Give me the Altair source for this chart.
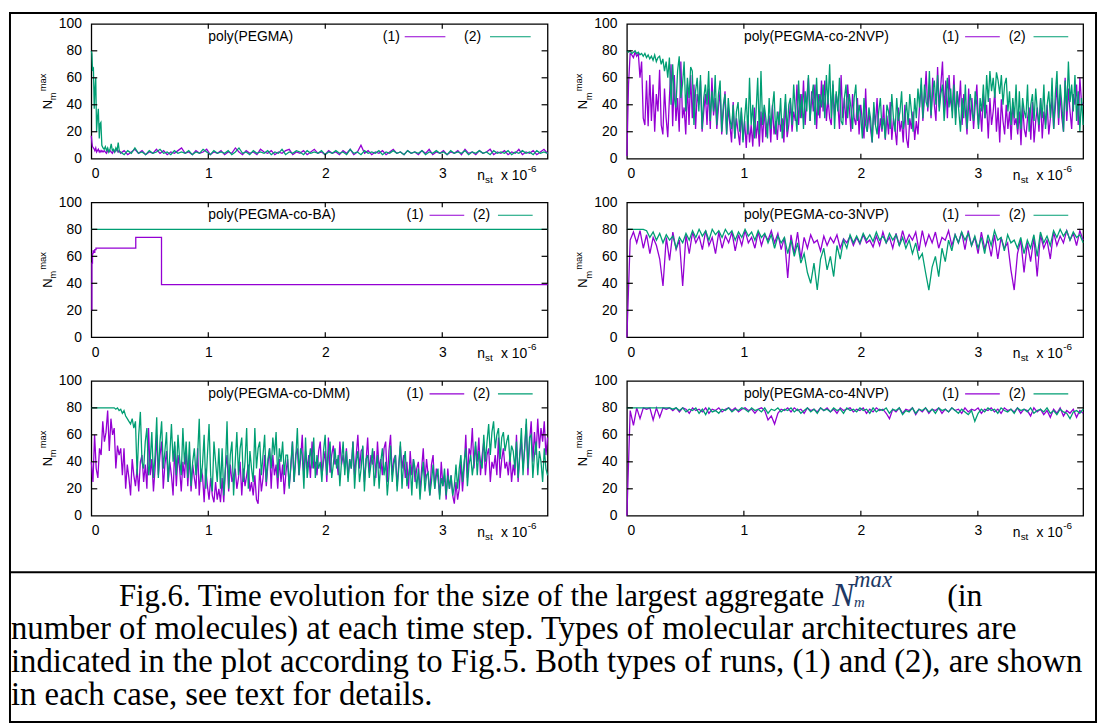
import altair as alt
import numpy as np
import pandas as pd

PURPLE = "#9400D3"
GREEN = "#009E73"
FONT = "Liberation Sans"
SERIF = "Liberation Serif"
W, H = 460, 136
XMAX = 3.9

# ---------------- data ----------------
# poly(PEGMA)
p1_early_x = [0, 0.005, 0.01, 0.018, 0.025, 0.03, 0.038, 0.045, 0.052, 0.06, 0.068, 0.075, 0.082,
              0.09, 0.1, 0.11, 0.12, 0.13, 0.14, 0.15, 0.16, 0.17, 0.18, 0.19, 0.2, 0.21, 0.22, 0.23, 0.24]
p1_g_early = [80, 78, 66, 67, 37, 50, 60, 20, 30, 37, 15, 26, 27, 10, 8, 7, 9, 6, 8, 5, 7, 11, 6, 7, 5, 8, 6, 12, 5]
p1_p_early = [17, 12, 9, 8, 7, 6, 8, 5, 6, 7, 5, 6, 5, 6, 5, 6, 5, 4, 6, 5, 6, 5, 4, 6, 5, 6, 7, 5, 6]
p1_g_late = [5, 3, 6, 4, 8, 4, 5, 3, 6, 4, 5, 7, 4, 5, 3, 6, 4, 5, 4, 6,
             3, 5, 4, 7, 5, 3, 6, 4, 5, 4, 6, 3, 5, 8, 4, 5, 3, 6, 4, 5,
             4, 6, 3, 5, 4, 7, 3, 5, 4, 6, 5, 3, 6, 4, 5, 4, 6, 3, 5, 4,
             6, 4, 5, 3, 7, 4, 5, 3, 6, 4, 5, 4, 6, 3, 5, 4, 6, 4, 5, 3,
             6, 4, 5, 4, 6, 3, 5, 4, 6, 4, 5, 3, 6, 4, 5, 4, 6, 3, 5, 4,
             6, 4, 5, 3, 6, 4, 5, 4, 6, 3, 5, 4, 6, 4, 5, 3, 6, 4, 5, 4]
p1_p_late = [4, 6, 3, 5, 7, 4, 6, 3, 5, 4, 7, 4, 6, 3, 5, 4, 6, 8, 4, 5,
             3, 6, 4, 5, 7, 3, 5, 4, 6, 3, 5, 4, 8, 5, 3, 6, 4, 5, 3, 7,
             5, 4, 6, 3, 5, 4, 6, 7, 3, 5, 4, 6, 3, 5, 7, 4, 5, 3, 6, 4,
             5, 3, 6, 4, 7, 3, 5, 10, 4, 6, 3, 5, 4, 6, 3, 5, 7, 4, 5, 3,
             6, 4, 5, 3, 6, 4, 7, 3, 5, 4, 6, 3, 5, 4, 6, 3, 7, 4, 5, 3,
             6, 4, 5, 7, 3, 5, 4, 6, 3, 5, 4, 7, 3, 5, 4, 6, 3, 5, 7, 4]

# poly(PEGMA-co-2NVP)
p2_p = [2, 55, 78, 77, 75, 79, 76, 78, 60, 72, 30, 25, 58, 24, 62, 28, 55, 20, 48, 35,
        66, 25, 18, 52, 30, 16, 45, 70, 24, 62, 28, 45, 20, 72, 30, 38, 18, 55, 25, 62,
        30, 55, 22, 48, 40, 58, 20, 35, 48, 25, 52, 22, 60, 32, 45, 22, 38, 50, 18, 35,
        50, 18, 38, 25, 12, 42, 15, 30, 20, 10, 35, 14, 28, 8, 32, 12, 25, 9, 38, 15,
        28, 9, 35, 12, 38, 16, 25, 32, 12, 40, 18, 28, 14, 35, 20, 30, 12, 42, 16, 25,
        42, 20, 35, 28, 55, 25, 48, 30, 58, 25, 45, 60, 28, 50, 35, 55, 22, 48, 30, 58,
        35, 58, 28, 45, 30, 25, 55, 32, 48, 40, 22, 62, 30, 45, 25, 55, 38, 20, 48, 30,
        25, 45, 18, 40, 28, 15, 52, 20, 35, 22, 12, 38, 25, 45, 15, 30, 20, 40, 14, 32,
        18, 42, 14, 30, 22, 10, 38, 20, 28, 12, 40, 15, 8, 30, 22, 35, 14, 28, 18, 40,
        55, 28, 45, 65, 35, 55, 30, 60, 40, 28, 68, 38, 55, 72, 35, 58, 30, 62, 42, 35,
        62, 30, 50, 38, 58, 25, 48, 35, 18, 52, 28, 45, 22, 40, 55, 25, 38, 20, 48, 30,
        40, 15, 45, 25, 35, 50, 20, 38, 12, 44, 28, 18, 40, 22, 35, 14, 42, 25, 30, 18,
        35, 10, 40, 22, 16, 30, 38, 14, 42, 12, 28, 38, 20, 45, 15, 35, 25, 40, 18, 30,
        45, 22, 38, 55, 25, 48, 30, 20, 60, 28, 52, 35, 22, 48, 40, 55, 25, 60, 42, 40]
p2_g = [80, 79, 80, 78, 79, 80, 78, 79, 77, 78, 76, 78, 75, 77, 74, 76, 73, 77, 72, 75,
        76, 70, 74, 65, 72, 60, 75, 40, 70, 45, 38, 65, 76, 45, 55, 72, 35, 60, 45, 68,
        65, 25, 50, 60, 35, 62, 22, 45, 55, 40, 65, 28, 50, 35, 62, 25, 48, 58, 20, 40,
        48, 18, 45, 30, 22, 40, 15, 35, 42, 20, 38, 12, 30, 45, 18, 60, 25, 40, 15, 35,
        60, 18, 65, 25, 40, 30, 15, 45, 22, 38, 50, 18, 35, 25, 45, 15, 30, 48, 20, 40,
        45, 25, 55, 35, 20, 58, 30, 48, 22, 50, 35, 62, 28, 45, 55, 25, 60, 32, 48, 38,
        55, 30, 62, 40, 70, 30, 58, 22, 50, 35, 60, 28, 25, 45, 55, 30, 48, 38, 22, 45,
        55, 28, 40, 32, 15, 45, 25, 20, 38, 30, 12, 42, 25, 18, 35, 45, 22, 30, 15, 40,
        35, 22, 48, 30, 20, 45, 28, 35, 50, 22, 30, 42, 25, 48, 35, 20, 45, 30, 52, 38,
        60, 30, 55, 42, 38, 65, 32, 50, 58, 40, 62, 35, 48, 55, 28, 45, 60, 38, 52, 30,
        55, 25, 50, 35, 20, 45, 30, 55, 22, 40, 48, 35, 28, 50, 40, 22, 45, 35, 55, 30,
        62, 42, 65, 50, 60, 45, 64, 58, 48, 62, 40, 55, 60, 35, 50, 25, 45, 30, 55, 22,
        50, 22, 45, 35, 30, 55, 20, 40, 48, 28, 52, 35, 25, 45, 30, 55, 22, 40, 50, 30,
        60, 22, 48, 65, 30, 55, 40, 20, 58, 35, 72, 42, 55, 35, 62, 28, 50, 20, 45, 25]

# poly(PEGMA-co-BA)
p3_p_x = [0, 0.005, 0.01, 0.015, 0.02, 0.03, 0.04, 0.38, 0.6, 3.9]
p3_p_y = [20, 55, 62, 64, 63, 65, 66, 74, 39, 39]
p3_g_x = [0, 3.9]
p3_g_y = [80, 80]

# poly(PEGMA-co-3NVP)
p4_p = [0, 72, 78, 70, 79, 66, 76, 62, 74, 68, 58, 38, 74, 57, 78, 65, 72, 38, 76, 62,
        78, 70, 75, 65, 79, 68, 74, 62, 78, 66, 75, 70, 78, 64, 76, 68, 79, 70, 74, 66,
        78, 68, 76, 72, 79, 70, 77, 65, 74, 44, 76, 62, 78, 58, 74, 66, 76, 70, 72, 64,
        75, 68, 74, 70, 76, 66, 73, 70, 75, 68, 74, 69, 76, 70, 72, 67, 75, 68, 78, 70,
        74, 66, 77, 68, 79, 70, 76, 72, 78, 64, 79, 68, 76, 70, 78, 66, 74, 72, 79, 68,
        76, 70, 78, 65, 79, 68, 74, 62, 78, 66, 72, 60, 76, 58, 74, 66, 70, 50, 35, 62,
        72, 48, 70, 56, 74, 45, 76, 66, 72, 58, 78, 68, 75, 70, 79, 72, 77, 68, 79, 72]
p4_g = [80, 80, 80, 80, 80, 80, 79, 74, 78, 72, 77, 70, 76, 72, 75, 66, 74, 70, 77, 72,
        79, 74, 80, 75, 79, 72, 80, 76, 79, 74, 80, 76, 79, 72, 78, 74, 80, 75, 78, 72,
        79, 74, 77, 70, 76, 66, 75, 70, 74, 62, 72, 60, 70, 55, 62, 48, 40, 55, 35, 58,
        66, 50, 60, 45, 68, 58, 72, 66, 76, 70, 75, 70, 77, 72, 76, 71, 78, 72, 75, 70,
        77, 72, 76, 68, 74, 66, 72, 62, 70, 58, 62, 48, 35, 52, 60, 45, 66, 56, 72, 64,
        76, 70, 78, 72, 77, 68, 75, 66, 74, 62, 76, 68, 79, 72, 74, 64, 76, 70, 72, 66,
        74, 62, 72, 66, 76, 60, 78, 70, 75, 68, 79, 74, 80, 75, 79, 72, 78, 74, 76, 70]

# poly(PEGMA-co-DMM)
p5_p = [40, 25, 60, 35, 28, 50, 45, 70, 55, 62, 78, 48, 72, 60, 65, 35, 52, 45, 50, 30,
        50, 20, 38, 28, 15, 42, 30, 22, 35, 18, 40, 45, 25, 38, 20, 65, 30, 42, 18, 35,
        60, 30, 45, 55, 20, 38, 48, 25, 40, 30, 15, 52, 22, 45, 35, 18, 40, 28, 50, 22,
        45, 18, 38, 28, 20, 50, 15, 35, 30, 10, 35, 22, 12, 28, 15, 10, 25, 12, 20, 10,
        28, 10, 35, 45, 18, 38, 25, 30, 35, 20, 28, 40, 15, 35, 22, 30, 38, 18, 25, 15,
        30, 12, 9, 35, 18, 28, 45, 22, 38, 50, 20, 45, 30, 38, 20, 42, 25, 38, 16, 32,
        42, 22, 35, 55, 25, 45, 50, 30, 42, 60, 28, 48, 35, 45, 28, 55, 35, 40, 30, 48,
        55, 30, 40, 48, 25, 58, 32, 45, 52, 38, 42, 30, 55, 38, 45, 35, 50, 28, 42, 35,
        55, 30, 45, 60, 35, 48, 50, 25, 40, 58, 32, 45, 38, 48, 28, 55, 35, 42, 30, 50,
        55, 25, 48, 60, 30, 42, 45, 22, 38, 52, 35, 45, 28, 40, 20, 48, 30, 42, 25, 35,
        40, 18, 35, 50, 25, 42, 30, 15, 38, 45, 20, 35, 28, 15, 40, 22, 30, 12, 35, 20,
        30, 15, 9, 25, 12, 20, 40, 18, 35, 60, 28, 50, 45, 65, 35, 52, 40, 58, 30, 45,
        55, 30, 45, 50, 25, 40, 35, 45, 30, 58, 28, 42, 50, 35, 40, 30, 45, 25, 38, 30,
        60, 25, 45, 55, 35, 50, 68, 30, 55, 70, 40, 62, 45, 72, 50, 65, 55, 70, 45, 58]
p5_g = [80, 80, 80, 80, 80, 80, 80, 80, 80, 80, 80, 80, 80, 80, 80, 79, 80, 78, 79, 76,
        78, 74, 72, 70, 68, 72, 65, 70, 30, 60, 77, 40, 35, 55, 65, 30, 40, 62, 28, 45,
        73, 28, 55, 70, 35, 48, 62, 25, 45, 68, 40, 55, 30, 60, 42, 30, 65, 38, 55, 28,
        55, 22, 40, 50, 30, 45, 72, 25, 38, 60, 20, 45, 68, 30, 18, 55, 40, 25, 50, 20,
        50, 15, 35, 70, 20, 45, 55, 15, 40, 62, 30, 50, 58, 25, 40, 65, 20, 48, 35, 25,
        65, 35, 50, 55, 30, 45, 60, 25, 42, 50, 35, 58, 45, 62, 28, 50, 40, 55, 30, 45,
        45, 20, 38, 55, 25, 42, 65, 30, 50, 45, 20, 58, 28, 40, 50, 35, 58, 28, 45, 35,
        40, 25, 48, 60, 30, 45, 55, 28, 38, 50, 35, 45, 22, 40, 55, 30, 48, 25, 42, 35,
        55, 20, 40, 48, 25, 35, 52, 18, 42, 45, 28, 38, 50, 22, 35, 45, 20, 40, 50, 30,
        40, 15, 30, 52, 25, 38, 45, 18, 35, 55, 20, 40, 48, 22, 30, 38, 15, 42, 35, 20,
        35, 12, 28, 40, 18, 30, 32, 15, 25, 38, 20, 30, 35, 12, 28, 22, 35, 15, 30, 20,
        30, 15, 22, 38, 20, 35, 45, 25, 40, 50, 22, 38, 45, 30, 40, 55, 30, 48, 40, 35,
        60, 40, 55, 68, 45, 62, 70, 50, 60, 65, 42, 58, 62, 48, 55, 60, 40, 52, 48, 35,
        55, 28, 45, 65, 30, 50, 72, 35, 58, 60, 28, 45, 55, 30, 48, 40, 25, 50, 35, 30]

# poly(PEGMA-co-4NVP)
p6_p = [0, 78, 67, 80, 72, 80, 79, 80, 71, 80, 73, 80, 79, 80, 78, 80, 77, 80, 79, 76,
        80, 78, 79, 77, 80, 76, 79, 78, 80, 77, 79, 80, 78, 80, 77, 79, 80, 78, 79, 76,
        79, 80, 78, 71, 74, 68, 76, 79, 78, 80, 77, 80, 78, 79, 76, 80, 78, 79, 77, 80,
        78, 80, 77, 79, 76, 80, 78, 79, 80, 77, 79, 78, 80, 76, 79, 77, 80, 78, 79, 76,
        72, 79, 77, 80, 76, 79, 78, 80, 75, 79, 77, 80, 76, 79, 78, 80, 76, 79, 77, 80,
        78, 79, 76, 80, 77, 79, 78, 80, 76, 79, 78, 80, 77, 79, 76, 80, 78, 79, 77, 80,
        76, 79, 78, 74, 80, 77, 79, 75, 78, 73, 79, 76, 80, 74, 78, 76, 79, 73, 78, 76]
p6_g = [80, 80, 80, 80, 80, 80, 80, 80, 80, 80, 80, 80, 80, 80, 79, 80, 78, 80, 77, 79,
        78, 80, 76, 79, 75, 80, 77, 78, 76, 79, 78, 80, 77, 79, 78, 80, 79, 77, 80, 78,
        79, 77, 80, 76, 79, 78, 80, 77, 79, 78, 80, 77, 79, 76, 78, 80, 77, 79, 76, 80,
        78, 79, 77, 80, 78, 79, 76, 80, 78, 79, 77, 80, 78, 79, 76, 80, 77, 79, 78, 80,
        76, 79, 78, 80, 75, 78, 77, 80, 76, 79, 78, 80, 77, 79, 76, 80, 78, 79, 77, 80,
        78, 76, 79, 77, 75, 78, 70, 76, 79, 77, 80, 78, 79, 76, 80, 78, 77, 79, 76, 80,
        78, 79, 77, 80, 76, 78, 79, 77, 80, 76, 78, 75, 79, 77, 76, 72, 77, 78, 76, 79]

titles = ["poly(PEGMA)", "poly(PEGMA-co-2NVP)", "poly(PEGMA-co-BA)",
          "poly(PEGMA-co-3NVP)", "poly(PEGMA-co-DMM)", "poly(PEGMA-co-4NVP)"]
run_labels = ["(1)", "(2)"]
x_ticks = [0, 1, 2, 3]
y_ticks = [0, 20, 40, 60, 80, 100]

caption_lines = [
    "number of molecules) at each time step. Types of molecular architectures are",
    "indicated in the plot according to Fig.5. Both types of runs, (1) and (2), are shown",
    "in each case, see text for details.",
]
caption_first = "Fig.6. Time evolution for the size of the largest aggregate"

# ---------------- helpers ----------------
ONE = pd.DataFrame({"k": [0]})
XS = alt.Scale(domain=[0, XMAX], nice=False, zero=False)
YS = alt.Scale(domain=[0, 100], nice=False, zero=False)
XAX = alt.Axis(values=x_ticks, format="d", domain=False, ticks=False, tickSize=0, grid=False,
               labelPadding=8, title=None, labelFontSize=14, labelFont=FONT, labelColor="black")
YAX = alt.Axis(values=y_ticks, format="d", domain=False, ticks=False, tickSize=0, grid=False,
               labelPadding=10, title=None, labelFontSize=14, labelFont=FONT, labelColor="black")


def txt(s, x, y, size=14, align="left", baseline="middle", angle=None, style="normal",
        color="black", font=FONT):
    kw = dict(text=s, align=align, baseline=baseline, fontSize=size, font=font,
              fontStyle=style, color=color)
    if angle is not None:
        kw["angle"] = angle
    return alt.Chart(ONE).mark_text(**kw).encode(x=alt.value(x), y=alt.value(y))


def hrule(x1, x2, y, color="black", width=1.2):
    return alt.Chart(ONE).mark_rule(color=color, strokeWidth=width).encode(
        x=alt.value(x1), x2=alt.value(x2), y=alt.value(y))


def line(xv, yv, color, interp="linear"):
    df = pd.DataFrame({"x": list(xv), "y": list(yv)})
    return alt.Chart(df).mark_line(color=color, strokeWidth=1.3, interpolate=interp).encode(
        x=alt.X("x:Q", scale=XS, axis=XAX), y=alt.Y("y:Q", scale=YS, axis=YAX))


def panel(title, s1, s2, legend, interp="linear", extras=()):
    xt = pd.DataFrame({"x": x_ticks[1:]})
    yt = pd.DataFrame({"y": y_ticks[1:-1]})
    tx = alt.Chart(xt).mark_rule(color="black", strokeWidth=1.2)
    ty = alt.Chart(yt).mark_rule(color="black", strokeWidth=1.2)
    X = alt.X("x:Q", scale=XS, axis=XAX)
    Y = alt.Y("y:Q", scale=YS, axis=YAX)
    layers = [
        line(s1[0], s1[1], PURPLE, interp),
        line(s2[0], s2[1], GREEN, interp),
        tx.encode(x=X, y=alt.value(H), y2=alt.value(H - 5)),
        tx.encode(x=X, y=alt.value(0), y2=alt.value(5)),
        ty.encode(y=Y, x=alt.value(0), x2=alt.value(6)),
        ty.encode(y=Y, x=alt.value(W), x2=alt.value(W - 6)),
        txt(title, 118, 13),
    ]
    l1r, l1a, l1b, l2r, l2a, l2b = legend
    layers += [
        txt(run_labels[0], l1r, 13, align="right"),
        hrule(l1a, l1b, 13, PURPLE),
        txt(run_labels[1], l2r, 13, align="right"),
        hrule(l2a, l2b, 13, GREEN),
        # y-axis title N_m^max
        txt("N", -44, 86, size=13, angle=270),
        txt("m", -38.5, 77, size=9.5, angle=270),
        txt("max", -48.5, 68, size=9.5, angle=270),
        # x-axis title n_st x 10^-6
        txt("n", 389, H + 21, baseline="alphabetic"),
        txt("st", 397, H + 24, size=10, baseline="alphabetic"),
        txt("x 10", 413, H + 21, baseline="alphabetic"),
        txt("-6", 440, H + 13, size=10, baseline="alphabetic"),
    ]
    layers += list(extras)
    return alt.layer(*layers).properties(width=W, height=H)


LEG_A = (311, 316, 357, 393, 402, 443)
LEG_B = (335, 341, 376, 402, 410, 445)

p1x = p1_early_x + list(np.linspace(0.25, XMAX, len(p1_g_late)))


def ux(v):
    return np.linspace(0, XMAX, len(v))


NAVY = "#203864"
frame_extras = [
    alt.Chart(ONE).mark_rect(filled=False, stroke="black", strokeWidth=2, color="black").encode(
        x=alt.value(-82), x2=alt.value(1013), y=alt.value(-11), y2=alt.value(704)),
    hrule(-82, 1013, 553, "black", 2),
    txt(caption_first, 739, 587, size=31, align="right", baseline="alphabetic", font=SERIF),
    txt("N", 747, 587, size=33, baseline="alphabetic", font=SERIF, style="italic", color=NAVY),
    txt("m", 769, 588, size=15, baseline="alphabetic", font=SERIF, style="italic", color=NAVY),
    txt("max", 769, 568, size=23, baseline="alphabetic", font=SERIF, style="italic", color=NAVY),
    txt("(in", 863, 587, size=32, baseline="alphabetic", font=SERIF),
    txt(caption_lines[0], -81, 620, size=33, baseline="alphabetic", font=SERIF),
    txt(caption_lines[1], -81, 654, size=33, baseline="alphabetic", font=SERIF),
    txt(caption_lines[2], -81, 687, size=33, baseline="alphabetic", font=SERIF),
]

c1 = panel(titles[0], (p1x, p1_p_early + p1_p_late), (p1x, p1_g_early + p1_g_late), LEG_A,
           extras=frame_extras)
c2 = panel(titles[1], (ux(p2_p), p2_p), (ux(p2_g), p2_g), LEG_B)
c3 = panel(titles[2], (p3_p_x, p3_p_y), (p3_g_x, p3_g_y), LEG_B, interp="step-after")
c4 = panel(titles[3], (ux(p4_p), p4_p), (ux(p4_g), p4_g), LEG_B)
c5 = panel(titles[4], (ux(p5_p), p5_p), (ux(p5_g), p5_g), LEG_B)
c6 = panel(titles[5], (ux(p6_p), p6_p), (ux(p6_g), p6_g), LEG_B)

chart = alt.concat(c1, c2, c3, c4, c5, c6, columns=2,
                   spacing={"row": 44, "column": 80}, bounds="flush").properties(
    padding=0, background="white"
).configure_view(stroke="black", strokeWidth=1.3)

chart.save("out.html", embed_options={"renderer": "svg", "actions": False})
